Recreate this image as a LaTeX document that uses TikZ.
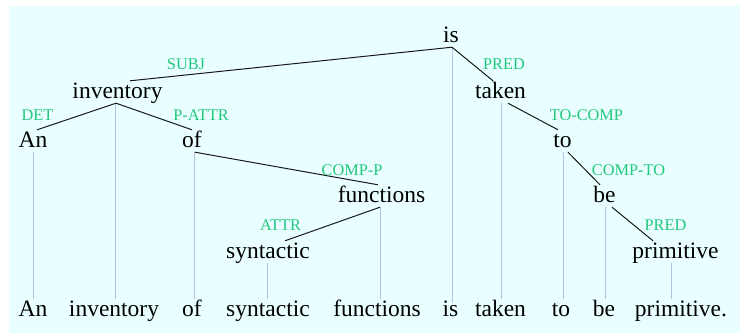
\documentclass[tikz,border=0pt]{standalone}
\usepackage{fontspec}
\setmainfont{Liberation Serif}
\definecolor{panelbg}{RGB}{233,255,255}
\definecolor{relgreen}{RGB}{34,200,125}
\definecolor{projblue}{RGB}{180,194,226}
\begin{document}
\begin{tikzpicture}[x=1pt,y=-1pt,
  word/.style={font=\fontsize{23.5}{28}\selectfont, anchor=base, inner sep=0pt,
               text height=17pt, text depth=5pt},
  rel/.style={font=\fontsize{16.3}{19}\selectfont, text=relgreen, inner sep=0pt},
  depedge/.style={draw=black!90, line width=1pt},
  proj/.style={draw=projblue, line width=1pt}]

% canvas and panel
\useasboundingbox (0,0) rectangle (740,333);
\fill[panelbg] (9,6) rectangle (740,333);

% dependency tree words
\node[word] (is)    at (451,42)    {is};
\node[word] (inv)   at (117.5,98)  {inventory};
\node[word] (taken) at (500.5,98)  {taken};
\node[word] (an)    at (33,147)    {An};
\node[word] (of)    at (192,147)   {of};
\node[word] (to)    at (562.5,147) {to};
\node[word] (fun)   at (381.5,202) {functions};
\node[word] (be)    at (604.5,202) {be};
\node[word] (syn)   at (268,258)   {syntactic};
\node[word] (prim)  at (675.5,258) {primitive};

% sentence row
\node[word] (wAn)    at (33,316)    {An};
\node[word] (wInv)   at (114,316)   {inventory};
\node[word] (wOf)    at (192,316)   {of};
\node[word] (wSyn)   at (268,316)   {syntactic};
\node[word] (wFun)   at (377,316)   {functions};
\node[word] (wIs)    at (450.5,316) {is};
\node[word] (wTaken) at (500.5,316) {taken};
\node[word] (wTo)    at (561,316)   {to};
\node[word] (wBe)    at (604,316)   {be};
\node[word] (wPrim)  at (681,316)   {primitive.};

% projection lines down to the sentence
\draw[proj] (an.south) -- (an.south |- wAn.north);
\draw[proj] ([xshift=-2.5pt]inv.south) -- ([xshift=-2.5pt]inv.south |- wInv.north);
\draw[proj] ([xshift=2pt]of.south) -- ([xshift=2pt]of.south |- wOf.north);
\draw[proj] ([xshift=-1pt]syn.south) -- ([xshift=-1pt]syn.south |- wSyn.north);
\draw[proj] ([xshift=-1.5pt]fun.south) -- ([xshift=-1.5pt]fun.south |- wFun.north);
\draw[proj] ([xshift=1pt]is.south) -- ([xshift=1pt,yshift=-4pt]is.south |- wIs.north);
\draw[proj] ([xshift=0.5pt]taken.south) -- ([xshift=0.5pt]taken.south |- wTaken.north);
\draw[proj] ([xshift=0.5pt]to.south) -- ([xshift=0.5pt]to.south |- wTo.north);
\draw[proj] ([xshift=0.5pt]be.south) -- ([xshift=0.5pt]be.south |- wBe.north);
\draw[proj] ([xshift=-4.5pt]prim.south) -- ([xshift=-4.5pt]prim.south |- wPrim.north);

% dependency edges
\draw[depedge] ([xshift=1pt]is.south) -- ([xshift=12.5pt]inv.north);
\draw[depedge] ([xshift=1pt]is.south) -- ([xshift=-7.5pt]taken.north);
\draw[depedge] ([xshift=-1.5pt]inv.south) -- ([xshift=4pt]an.north);
\draw[depedge] ([xshift=-1.5pt]inv.south) -- (of.north);
\draw[depedge] ([xshift=3pt]of.south) -- ([xshift=-3.5pt]fun.north);
\draw[depedge] ([xshift=-1.5pt]fun.south) -- ([xshift=17pt]syn.north);
\draw[depedge] ([xshift=7.5pt]taken.south) -- ([xshift=-4.5pt]to.north);
\draw[depedge] ([xshift=5.5pt]to.south) -- ([xshift=-4.5pt]be.north);
\draw[depedge] ([xshift=7.5pt]be.south) -- ([xshift=-22.5pt]prim.north);

% relation labels
\node[rel] (lSubj)   at (186,64)    {SUBJ};
\node[rel] (lDet)    at (37.5,115)  {DET};
\node[rel] (lPattr)  at (201,115)   {P-ATTR};
\node[rel] (lCompP)  at (352,170)   {COMP-P};
\node[rel] (lAttr)   at (280.5,225) {ATTR};
\node[rel] (lPred)   at (504,64)    {PRED};
\node[rel] (lToComp) at (586.5,115) {TO-COMP};
\node[rel] (lCompTo) at (628.5,170) {COMP-TO};
\node[rel] (lPred2)  at (665.5,225) {PRED};
\end{tikzpicture}
\end{document}
